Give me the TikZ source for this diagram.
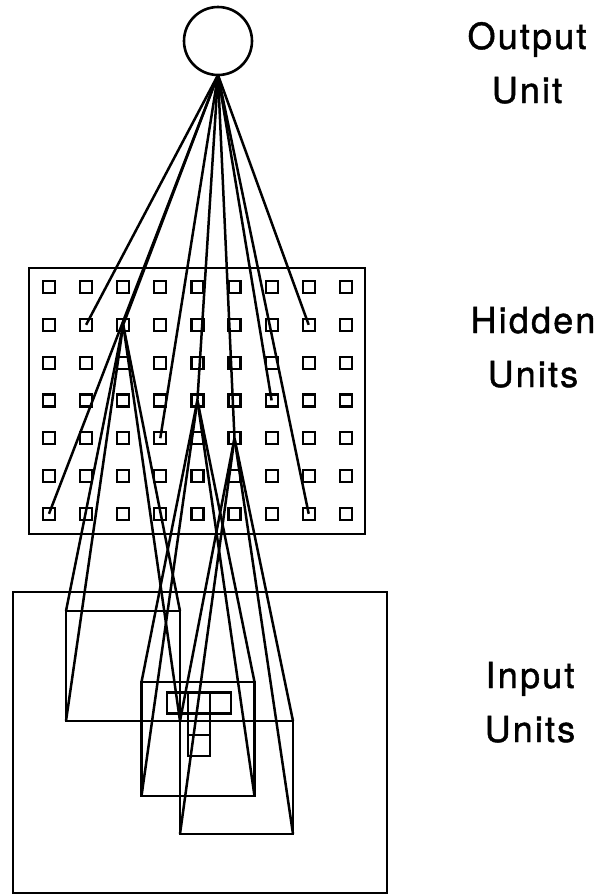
\documentclass[tikz,border=0pt]{standalone}
\usepackage{fontspec}
\setmainfont{TeX Gyre Heros}[LetterSpace=6,FakeBold=1.2]
\usepackage{tikz}

\begin{document}
\begin{tikzpicture}[x=1pt, y=-1pt, line width=2.5pt,
    unit/.style={draw, line width=2.2pt, minimum size=12pt, inner sep=0pt, outer sep=0pt},
    cell/.style={draw, line width=2.4pt, minimum width=21.5pt, minimum height=21pt, inner sep=0pt, outer sep=0pt},
    field/.style={draw, line width=2.6pt, inner sep=0pt, outer sep=0pt},
    layername/.style={font=\fontsize{36}{54}\selectfont, align=center, anchor=base}]
  \useasboundingbox (0,0) rectangle (600,895);

  % output unit
  \node[draw, circle, line width=2.6pt, minimum size=68pt, outer sep=0pt] (out) at (218,41) {};

  % hidden layer: 9 x 7 grid
  \node[field, minimum width=336pt, minimum height=266pt] (hid) at (197,401) {};
  \foreach \c in {1,...,9}
    \foreach \r in {1,...,7}
      \node[unit] (h-\c-\r) at ({49+37.1*(\c-1)},{287+37.8*(\r-1)}) {};

  % input layer and receptive fields
  \node[field, minimum width=374pt, minimum height=301pt] (inp) at (200,742.5) {};
  \node[field, minimum width=114pt, minimum height=110pt] (fa) at (123,666) {};
  \node[field, minimum width=113pt, minimum height=114pt] (fb) at (198,739) {};
  \node[field, minimum width=113pt, minimum height=113pt] (fc) at (236.5,777.5) {};

  % the T pattern
  \node[cell] (t1) at (177.5,703) {};
  \node[cell] (t2) at (199,703) {};
  \node[cell] (t3) at (220.5,703) {};
  \node[cell] (t4) at (199,724.5) {};
  \node[cell] (t5) at (199,745.5) {};

  % output -> hidden
  \foreach \h in {2-2,3-2,8-2,5-4,7-4,4-5,6-5,1-7,8-7}
    \draw (out.south) -- (h-\h.center);

  % hidden -> corners of the fields
  \foreach \h/\f in {3-2/fa,5-4/fb,6-5/fc}
    \foreach \a in {north west,north east,south west,south east}
      \draw (h-\h.center) -- (\f.\a);

  \node[layername] (lbl-out) at (527,103) {Output\\Unit};
  \node[layername] (lbl-hid) at (533,387) {Hidden\\Units};
  \node[layername] (lbl-inp) at (530,742) {Input\\Units};
\end{tikzpicture}
\end{document}
